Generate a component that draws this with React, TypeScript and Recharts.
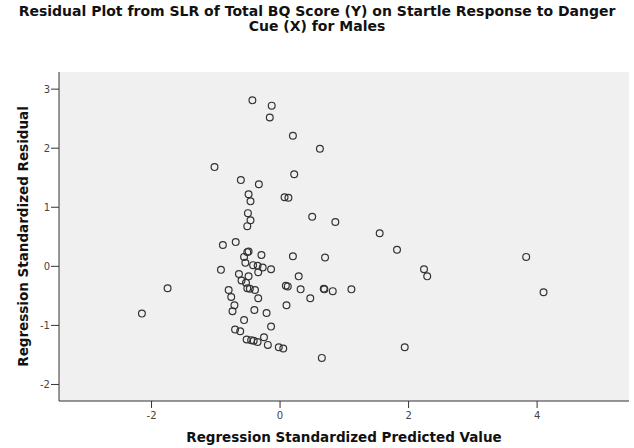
import { CartesianGrid, Scatter, ScatterChart, XAxis, YAxis } from 'recharts';

// Regression standardized predicted value (x) and standardized residual (y), one pair per case
const predicted = [
  -0.43, -0.13, -0.16, 0.2, 0.62, -1.02, -0.61, 0.22, -0.33, -0.49,
  -0.46, 0.07, 0.13, -0.5, -0.46, 0.5, 0.86, -0.51, 1.55, 1.82,
  -0.89, -0.69, -0.49, -0.51, -0.29, -0.56, 0.2, 0.7, 3.83, -0.54,
  -0.42, -0.35, -0.27, -0.14, -0.92, -0.34, -0.64, -0.49, 0.29, 2.24,
  2.29, -0.6, -0.53, -1.75, -0.8, -0.51, -0.47, -0.39, 0.09, 0.12,
  0.32, 0.68, 0.69, 0.82, 1.11, 4.1, -0.76, -0.34, 0.47, -0.71,
  0.1, -0.74, -0.4, -0.21, -2.15, -0.56, -0.14, -0.7, -0.62, -0.25,
  -0.52, -0.45, -0.41, -0.35, -0.19, -0.02, 0.05, 1.94, 0.65,
];
const residual = [
  2.81, 2.72, 2.52, 2.21, 1.99, 1.68, 1.46, 1.56, 1.39, 1.22,
  1.1, 1.17, 1.16, 0.9, 0.78, 0.84, 0.75, 0.68, 0.56, 0.28,
  0.36, 0.41, 0.25, 0.24, 0.19, 0.16, 0.17, 0.15, 0.16, 0.06,
  0.02, 0.01, -0.02, -0.05, -0.06, -0.1, -0.13, -0.17, -0.17, -0.05,
  -0.17, -0.24, -0.28, -0.37, -0.4, -0.37, -0.38, -0.4, -0.33, -0.34,
  -0.39, -0.38, -0.39, -0.42, -0.39, -0.44, -0.52, -0.54, -0.54, -0.66,
  -0.66, -0.76, -0.74, -0.79, -0.8, -0.91, -1.02, -1.07, -1.1, -1.2,
  -1.24, -1.25, -1.26, -1.28, -1.33, -1.37, -1.39, -1.37, -1.55,
];

const xTicks = [-2, 0, 2, 4];
const yTicks = [-2, -1, 0, 1, 2, 3];
const xDomain = [-3.44, 5.43];
const yDomain = [-2.28, 3.29];

const points = predicted.map((x, i) => ({ x, y: residual[i] }));

const FONT = '"DejaVu Sans", Verdana, sans-serif';
const tickStyle = { fontSize: 10, fill: '#444', fontFamily: FONT };

function OpenCircle(props: any) {
  const { cx, cy } = props;
  return <circle cx={cx} cy={cy} r={3.4} fill="none" stroke="#333" strokeWidth={1.2} />;
}

export default function App() {
  return (
    <div
      style={{
        position: 'absolute',
        left: 0,
        top: 0,
        width: 634,
        height: 448,
        background: '#fff',
        fontFamily: FONT,
      }}
    >
      <ScatterChart width={634} height={448} margin={{ top: 72, right: 5, bottom: 0, left: 0 }}>
        <CartesianGrid horizontal={false} vertical={false} fill="#f0f0f0" fillOpacity={1} />
        <XAxis
          type="number"
          dataKey="x"
          domain={xDomain}
          ticks={xTicks}
          allowDataOverflow
          height={47}
          tickSize={7}
          tickMargin={4}
          tick={tickStyle}
          axisLine={{ stroke: '#333' }}
          tickLine={{ stroke: '#333' }}
          label={{
            value: 'Regression Standardized Predicted Value',
            position: 'insideBottom',
            offset: 6,
            fill: '#111',
            fontSize: 13.5,
            fontWeight: 'bold',
            fontFamily: FONT,
          }}
        />
        <XAxis
          xAxisId="top"
          orientation="top"
          type="number"
          domain={xDomain}
          allowDataOverflow
          height={0}
          tick={false}
          tickLine={false}
          axisLine={{ stroke: '#555' }}
        />
        <YAxis
          type="number"
          dataKey="y"
          domain={yDomain}
          ticks={yTicks}
          allowDataOverflow
          width={59}
          tickSize={8}
          tickMargin={1}
          tick={tickStyle}
          axisLine={{ stroke: '#333' }}
          tickLine={{ stroke: '#333' }}
          label={{
            value: 'Regression Standardized Residual',
            angle: -90,
            position: 'insideLeft',
            offset: 23,
            fill: '#111',
            fontSize: 13.5,
            fontWeight: 'bold',
            fontFamily: FONT,
            style: { textAnchor: 'middle' },
          }}
        />
        <YAxis
          yAxisId="right"
          orientation="right"
          type="number"
          domain={yDomain}
          allowDataOverflow
          width={0}
          tick={false}
          tickLine={false}
          axisLine={{ stroke: '#555' }}
        />
        <Scatter data={points} shape={OpenCircle} isAnimationActive={false} />
      </ScatterChart>
      <div
        style={{
          position: 'absolute',
          top: 4,
          left: 0,
          width: 634,
          textAlign: 'center',
          fontWeight: 'bold',
          fontSize: 14,
          lineHeight: '15px',
          color: '#111',
        }}
      >
        Residual Plot from SLR of Total BQ Score (Y) on Startle Response to Danger
        <br />
        Cue (X) for Males
      </div>
    </div>
  );
}
